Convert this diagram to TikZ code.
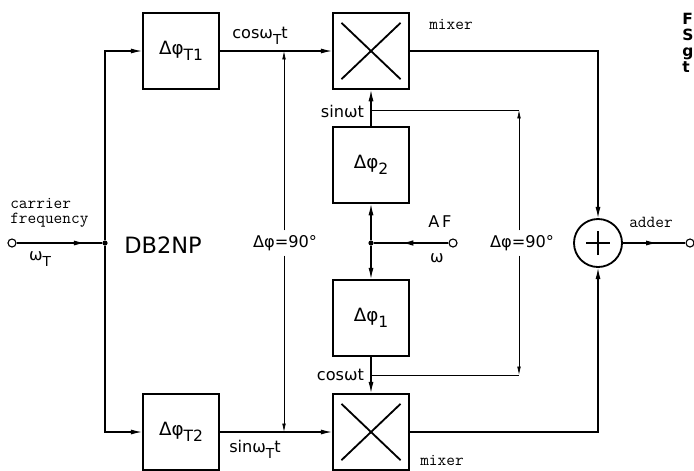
\documentclass[tikz,border=0pt]{standalone}
\usepackage{graphicx}
\usepackage{fontspec}
\setmainfont{DejaVu Sans}
\usetikzlibrary{arrows.meta,positioning,decorations.markings}

\newcommand{\lowsub}[1]{\raisebox{-0.65ex}{\scalebox{0.85}{#1}}}

\begin{document}
\begin{tikzpicture}[
  x=0.025cm,y=-0.025cm,
  >={Latex[length=8pt,width=3.6pt]},
  blk/.style={draw,line width=1.4pt,minimum width=1.9cm,minimum height=1.9cm,inner sep=0,font=\fontsize{13}{15}\selectfont},
  mixbox/.style={blk,path picture={
    \draw[line width=1.3pt] ([shift={(6pt,-7pt)}]path picture bounding box.north west) -- ([shift={(-6pt,7pt)}]path picture bounding box.south east);
    \draw[line width=1.3pt] ([shift={(6pt,7pt)}]path picture bounding box.south west) -- ([shift={(-6pt,-7pt)}]path picture bounding box.north east);}},
  sig/.style={line width=0.8pt},
  phl/.style={line width=0.5pt,>={Latex[length=6pt,width=2.6pt]}},
  term/.style={circle,draw,line width=0.8pt,minimum size=2mm,inner sep=0},
  jdot/.style={circle,fill,minimum size=1.3mm,inner sep=0},
  lbl/.style={font=\fontsize{11.5}{13}\selectfont},
  tt/.style={font=\ttfamily\fontsize{12}{11}\selectfont,align=left},
  midarr/.style={postaction={decorate},decoration={markings,mark=at position #1 with {\arrow{>}}}},
]
  \useasboundingbox (0,0) rectangle (694,470);
  % blocks
  \node[blk] (t1) at (181,51) {Δφ\lowsub{T1}};
  \node[blk] (t2) at (181,432) {Δφ\lowsub{T2}};
  \node[mixbox] (mx1) at (371,51) {};
  \node[mixbox] (mx2) at (371,432) {};
  \node[blk] (p2) at (371,165) {Δφ\lowsub{2}};
  \node[blk] (p1) at (371,318) {Δφ\lowsub{1}};
  \node[circle,draw,line width=1.3pt,minimum size=1.2cm,inner sep=0] (add) at (598,243) {};
  \draw[line width=1pt] ([xshift=-3mm]add.center) -- ([xshift=3mm]add.center);
  \draw[line width=1pt] ([yshift=-3mm]add.center) -- ([yshift=3mm]add.center);
  % terminals and junctions
  \node[term] (inC) at (12,243) {};
  \node[term] (inAF) at (453,243) {};
  \node[term] (out) at (690,243) {};
  \node[jdot] (jc) at (105,243) {};
  \node[jdot] (ja) at (371,243) {};
  % signal paths
  \draw[sig,midarr=.8] (inC) -- (jc);
  \foreach \b in {t1,t2} \draw[sig,->] (jc) |- (\b);
  \foreach \a/\b in {t1/mx1,t2/mx2,ja/p2,ja/p1,p2/mx1,p1/mx2} \draw[sig,->] (\a) -- (\b);
  \draw[sig,postaction={decorate},decoration={markings,mark=at position .62 with {\arrow{Latex[open,length=8pt,width=4pt]}}}] (inAF) -- (ja);
  \foreach \a in {mx1,mx2} \draw[sig,->] (\a) -| (add);
  \draw[sig,midarr=.55] (add) -- (out);
  % 90 degree references
  \node[lbl] (d90a) at (285,243) {Δφ=90°};
  \node[lbl] (d90b) at (522,243) {Δφ=90°};
  \coordinate (ca) at (284,51);
  \coordinate (cb) at (284,432);
  \coordinate (sa) at (519,110);
  \coordinate (sb) at (519,375);
  \draw[phl,->] (d90a.north -| ca) -- (ca);
  \draw[phl,->] (d90a.south -| cb) -- (cb);
  \draw[phl] (sa -| ja) -- (sa);
  \draw[phl] (sb -| ja) -- (sb);
  \draw[phl,->] (d90b.north -| sa) -- (sa);
  \draw[phl,->] (d90b.south -| sb) -- (sb);
  % labels
  \node[lbl] (lcT) at (260,36) {cosω\lowsub{T}t};
  \node[lbl] (lsT) at (255,449) {sinω\lowsub{T}t};
  \node[lbl,anchor=east] (ls) at (369,111) {sinωt};
  \node[lbl,anchor=east] (lc) at (369,375) {cosωt};
  \node[lbl] (lwT) at (40,259) {ω\lowsub{T}};
  \node[lbl] (laf) at (440,222) {A\,F};
  \node[lbl] (lw) at (437,258) {ω};
  \node[font=\fontsize{16}{18}\selectfont] (db) at (163,245) {DB2NP};
  \node[tt,anchor=west,inner sep=0] (lcar) at (10,213) {carrier\\frequency};
  \node[tt] (lmx1) at (451,24) {mixer};
  \node[tt] (lmx2) at (442,460) {mixer};
  \node[tt] (ladd) at (651,222) {adder};
  \node[anchor=north west,inner sep=0,align=left,font=\bfseries\fontsize{11}{11.4}\selectfont] (cap) at (682,13) {F\\S\\g\\t};
\end{tikzpicture}
\end{document}
